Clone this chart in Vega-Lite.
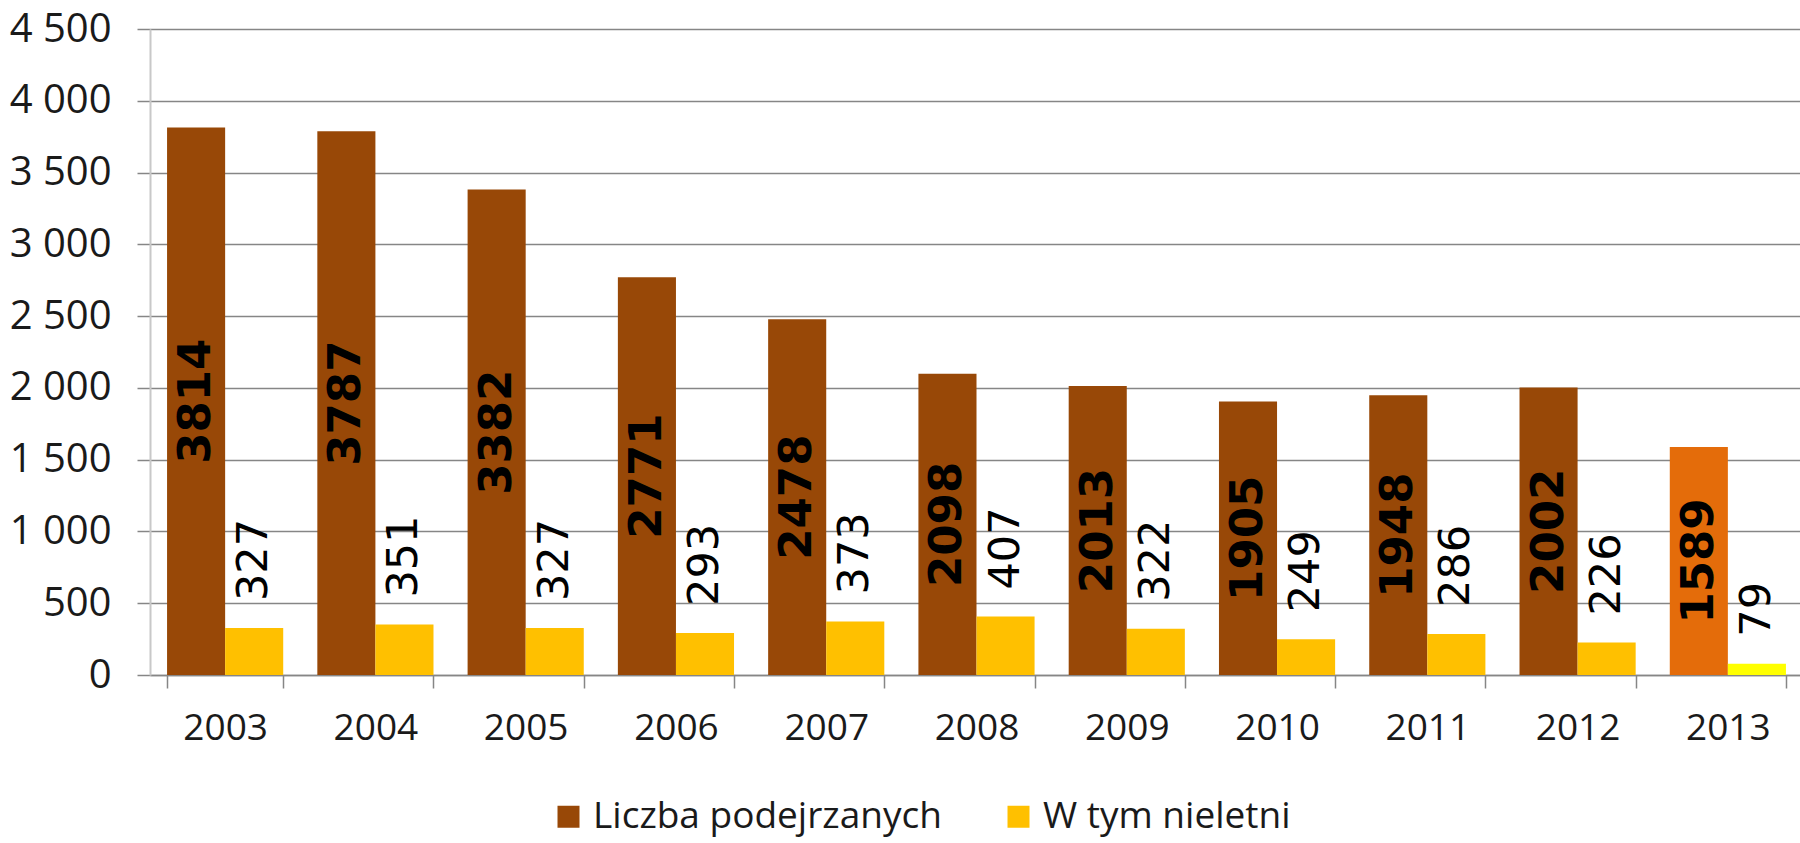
{
  "$schema": "https://vega.github.io/schema/vega-lite/v6.json",
  "autosize": "none",
  "padding": {"left": 150, "top": 29, "right": 0, "bottom": 168},
  "width": 1653,
  "height": 646,
  "background": "white",
  "config": {
    "view": {"stroke": null},
    "font": "Open Sans"
  },
  "data": {
    "values": [
      {"rok": "2003", "seria": "Liczba podejrzanych", "wartosc": 3814},
      {"rok": "2003", "seria": "W tym nieletni", "wartosc": 327},
      {"rok": "2004", "seria": "Liczba podejrzanych", "wartosc": 3787},
      {"rok": "2004", "seria": "W tym nieletni", "wartosc": 351},
      {"rok": "2005", "seria": "Liczba podejrzanych", "wartosc": 3382},
      {"rok": "2005", "seria": "W tym nieletni", "wartosc": 327},
      {"rok": "2006", "seria": "Liczba podejrzanych", "wartosc": 2771},
      {"rok": "2006", "seria": "W tym nieletni", "wartosc": 293},
      {"rok": "2007", "seria": "Liczba podejrzanych", "wartosc": 2478},
      {"rok": "2007", "seria": "W tym nieletni", "wartosc": 373},
      {"rok": "2008", "seria": "Liczba podejrzanych", "wartosc": 2098},
      {"rok": "2008", "seria": "W tym nieletni", "wartosc": 407},
      {"rok": "2009", "seria": "Liczba podejrzanych", "wartosc": 2013},
      {"rok": "2009", "seria": "W tym nieletni", "wartosc": 322},
      {"rok": "2010", "seria": "Liczba podejrzanych", "wartosc": 1905},
      {"rok": "2010", "seria": "W tym nieletni", "wartosc": 249},
      {"rok": "2011", "seria": "Liczba podejrzanych", "wartosc": 1948},
      {"rok": "2011", "seria": "W tym nieletni", "wartosc": 286},
      {"rok": "2012", "seria": "Liczba podejrzanych", "wartosc": 2002},
      {"rok": "2012", "seria": "W tym nieletni", "wartosc": 226},
      {"rok": "2013", "seria": "Liczba podejrzanych", "wartosc": 1589},
      {"rok": "2013", "seria": "W tym nieletni", "wartosc": 79}
    ]
  },
  "encoding": {
    "x": {
      "field": "rok",
      "type": "nominal",
      "scale": {"paddingInner": 0.227, "paddingOuter": 0.1135},
      "axis": {
        "title": null,
        "labelAngle": 0,
        "labelFont": "Open Sans",
        "labelFontSize": 37,
        "labelColor": "#1a1a1a",
        "labelPadding": 22,
        "tickBand": "extent",
        "tickSize": 13,
        "tickColor": "#868686",
        "tickWidth": 1.5,
        "domainColor": "#868686",
        "domainWidth": 1.5
      }
    },
    "xOffset": {
      "field": "seria",
      "type": "nominal",
      "scale": {"paddingInner": 0, "paddingOuter": 0}
    }
  },
  "layer": [
    {
      "mark": {"type": "bar"},
      "encoding": {
        "y": {
          "field": "wartosc",
          "type": "quantitative",
          "scale": {"domain": [0, 4500], "nice": false},
          "axis": {
            "title": null,
            "values": [0, 500, 1000, 1500, 2000, 2500, 3000, 3500, 4000, 4500],
            "labelExpr": "replace(format(datum.value, ','), ',', ' ')",
            "labelFont": "Open Sans",
            "labelFontSize": 40,
            "labelColor": "#1a1a1a",
            "labelPadding": 26,
            "tickSize": 13,
            "tickColor": "#868686",
            "tickWidth": 1.5,
            "grid": true,
            "gridColor": "#868686",
            "gridWidth": 1.5,
            "domainColor": "#c8c8c8",
            "domainWidth": 2
          }
        },
        "color": {
          "condition": [
            {"test": "datum.rok === '2013' && datum.seria === 'Liczba podejrzanych'", "value": "#E46C0A"},
            {"test": "datum.rok === '2013' && datum.seria === 'W tym nieletni'", "value": "#FFFF00"}
          ],
          "field": "seria",
          "type": "nominal",
          "scale": {"domain": ["Liczba podejrzanych", "W tym nieletni"], "range": ["#984807", "#FFC000"]},
          "legend": {
            "title": null,
            "orient": "none",
            "direction": "horizontal",
            "legendX": 400,
            "legendY": 769,
            "symbolType": "square",
            "symbolSize": 484,
            "symbolStrokeWidth": 0,
            "labelFont": "Open Sans",
            "labelFontSize": 37,
            "labelColor": "#1a1a1a",
            "labelOffset": 6,
            "columnPadding": 58,
            "labelLimit": 600
          }
        }
      }
    },
    {
      "transform": [{"filter": "datum.seria === 'Liczba podejrzanych'"}],
      "mark": {
        "type": "text",
        "angle": -90,
        "align": "center",
        "baseline": "middle",
        "font": "DejaVu Sans",
        "fontWeight": "bold",
        "fontSize": 45,
        "color": "#000000"
      },
      "encoding": {
        "y": {"field": "wartosc", "type": "quantitative", "stack": "zero", "bandPosition": 0.5},
        "text": {"field": "wartosc", "type": "quantitative", "format": "d"}
      }
    },
    {
      "transform": [{"filter": "datum.seria === 'W tym nieletni'"}],
      "mark": {
        "type": "text",
        "angle": -90,
        "align": "left",
        "baseline": "middle",
        "dx": 27,
        "font": "DejaVu Sans",
        "fontSize": 43,
        "color": "#000000"
      },
      "encoding": {
        "y": {"field": "wartosc", "type": "quantitative"},
        "text": {"field": "wartosc", "type": "quantitative", "format": "d"}
      }
    }
  ]
}
